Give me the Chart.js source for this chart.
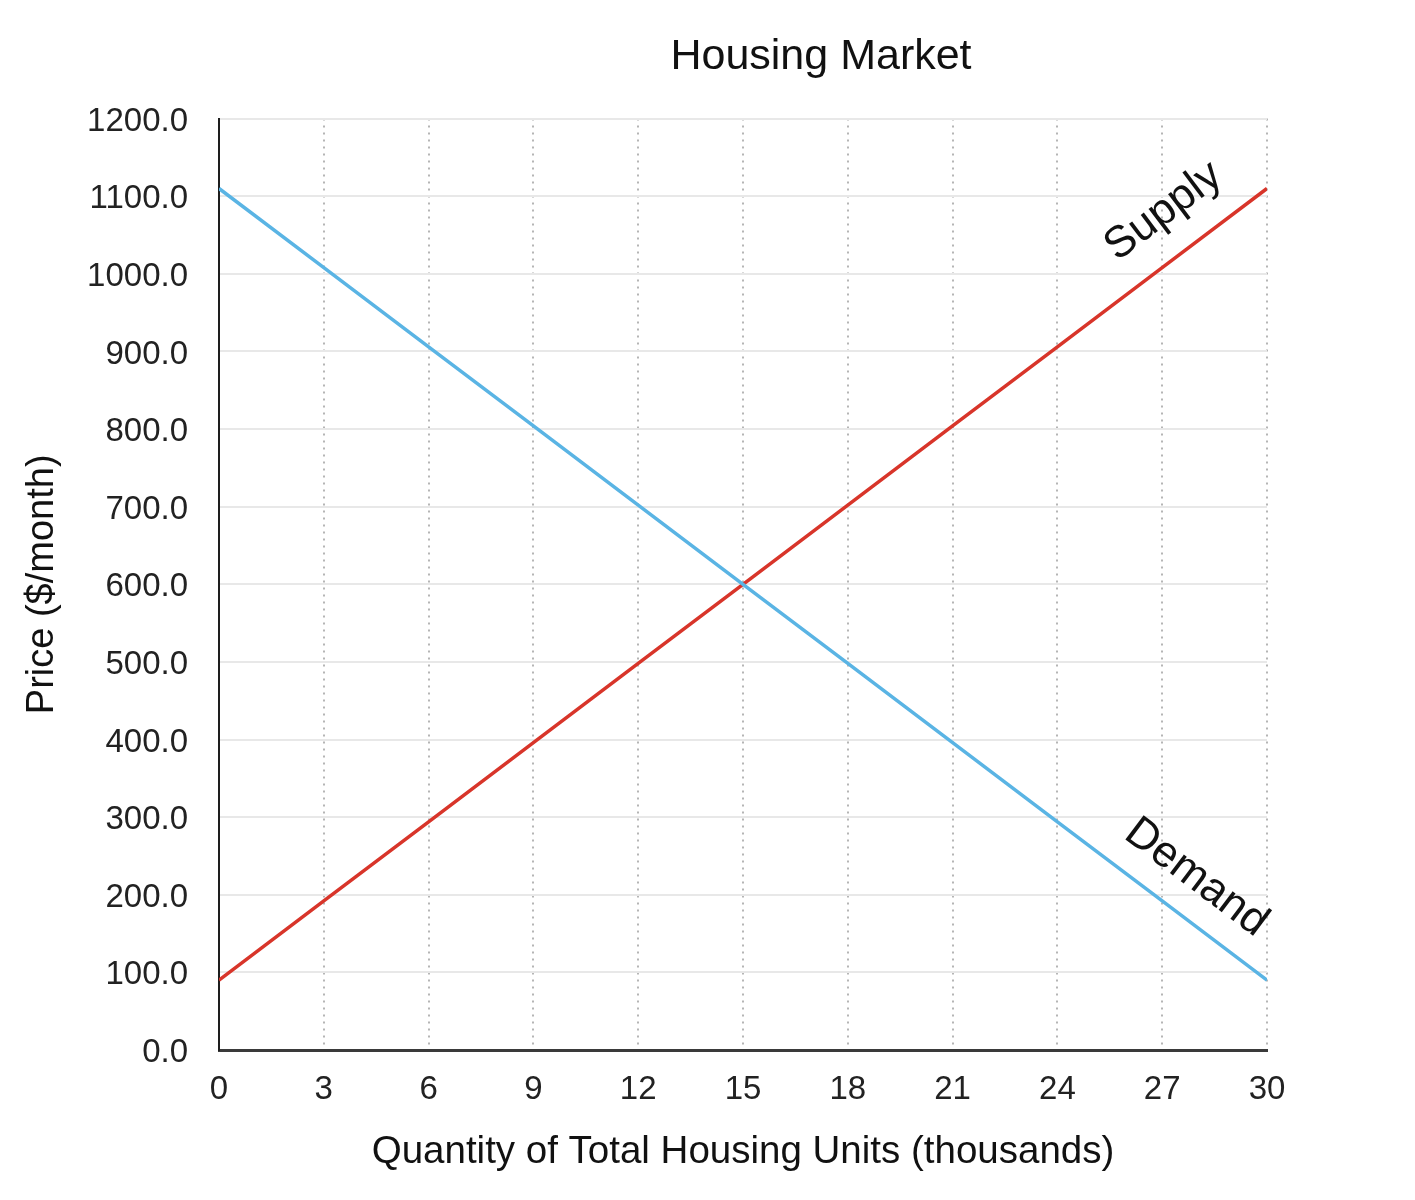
<!DOCTYPE html>
<html>
<head>
<meta charset="utf-8">
<script src="https://cdn.jsdelivr.net/npm/chart.js@4/dist/chart.umd.min.js"></script>
<style>
  html, body { margin: 0; padding: 0; background: #ffffff; }
  #wrap { width: 1415px; height: 1200px; }
</style>
</head>
<body>
<div id="wrap"><canvas id="c" width="1415" height="1200"></canvas></div>
<script>
// ---- Data ----
const quantities = [0, 3, 6, 9, 12, 15, 18, 21, 24, 27, 30];           // thousands of housing units
const supplyPrices = [90, 192, 294, 396, 498, 600, 702, 804, 906, 1008, 1110];  // $/month
const demandPrices = [1110, 1008, 906, 804, 702, 600, 498, 396, 294, 192, 90];  // $/month
const seriesNames = ["Demand", "Supply"];
const chartTitle = "Housing Market";
const xAxisTitle = "Quantity of Total Housing Units (thousands)";
const yAxisTitle = "Price ($/month)";
const lineLabels = [
  { text: "Supply", series: "Supply", at: 27.8, offset: 44 },
  { text: "Demand", series: "Demand", at: 27.3, offset: 39 }
];

const FONT = "'Liberation Sans', Arial, Helvetica, sans-serif";

function toPoints(xs, ys) { return xs.map((x, i) => ({ x: x, y: ys[i] })); }

const colors = { Demand: "#5ab4e4", Supply: "#d8352a" };
const seriesData = { Demand: demandPrices, Supply: supplyPrices };

// Place the rotated line labels using the chart's own scales
const lineLabelPlugin = {
  id: "lineLabels",
  afterDatasetsDraw(chart) {
    const { ctx, scales } = chart;
    const xs = scales.x, ys = scales.y;
    lineLabels.forEach(lbl => {
      const vals = seriesData[lbl.series];
      const x0 = xs.getPixelForValue(quantities[0]);
      const y0 = ys.getPixelForValue(vals[0]);
      const x1 = xs.getPixelForValue(quantities[quantities.length - 1]);
      const y1 = ys.getPixelForValue(vals[vals.length - 1]);
      const ang = Math.atan2(y1 - y0, x1 - x0);
      const t = (lbl.at - quantities[0]) / (quantities[quantities.length - 1] - quantities[0]);
      const px = x0 + (x1 - x0) * t;
      const py = y0 + (y1 - y0) * t;
      ctx.save();
      ctx.translate(px, py);
      ctx.rotate(ang);
      ctx.font = "44px " + FONT;
      ctx.fillStyle = "#111111";
      ctx.textAlign = "center";
      ctx.textBaseline = "middle";
      ctx.fillText(lbl.text, 0, -lbl.offset);
      ctx.restore();
    });
  }
};

// Shift the title block so it is centred where the reference has it
const titleShift = {
  id: "titleShift",
  afterLayout(chart) {
    if (chart.titleBlock) {
      chart.titleBlock.left = 227;
      chart.titleBlock.right = 1415;
    }
  }
};

new Chart(document.getElementById("c"), {
  type: "line",
  data: {
    datasets: seriesNames.map(name => ({
      label: name,
      data: toPoints(quantities, seriesData[name]),
      borderColor: colors[name],
      backgroundColor: colors[name],
      borderWidth: 3.5,
      pointRadius: 0,
      tension: 0,
      fill: false
    }))
  },
  options: {
    responsive: false,
    animation: false,
    layout: { padding: { left: 0, right: 148, top: 0, bottom: 0 } },
    plugins: {
      legend: { display: false },
      tooltip: { enabled: false },
      title: {
        display: true,
        text: chartTitle,
        color: "#111111",
        font: { family: FONT, size: 43, weight: "normal" },
        padding: { top: 31, bottom: 36 }
      }
    },
    scales: {
      x: {
        type: "linear",
        min: 0,
        max: 30,
        afterFit(scale) { scale.height = 150; },
        ticks: {
          stepSize: 3,
          color: "#222222",
          font: { family: FONT, size: 33 },
          padding: 20,
          maxRotation: 0
        },
        grid: {
          color: "#b5b5b5",
          lineWidth: 2,
          drawTicks: false
        },
        border: { display: true, color: "#3a3a3a", width: 3, dash: [2, 5] },
        title: {
          display: true,
          text: xAxisTitle,
          color: "#111111",
          font: { family: FONT, size: 38.5 },
          padding: { top: 0, bottom: 25 }
        }
      },
      y: {
        type: "linear",
        min: 0,
        max: 1200,
        afterFit(scale) { scale.width = 219; },
        ticks: {
          stepSize: 100,
          color: "#222222",
          font: { family: FONT, size: 33 },
          padding: 31,
          labelOffset: 3,
          callback: v => Number(v).toFixed(1)
        },
        grid: {
          color: "#e8e8e8",
          lineWidth: 2,
          drawTicks: false
        },
        border: { display: true, color: "#1e1e1e", width: 2 },
        title: {
          display: true,
          text: yAxisTitle,
          color: "#111111",
          font: { family: FONT, size: 38 },
          padding: { top: 20, bottom: 0 }
        }
      }
    }
  },
  plugins: [lineLabelPlugin, titleShift]
});
</script>
</body>
</html>
